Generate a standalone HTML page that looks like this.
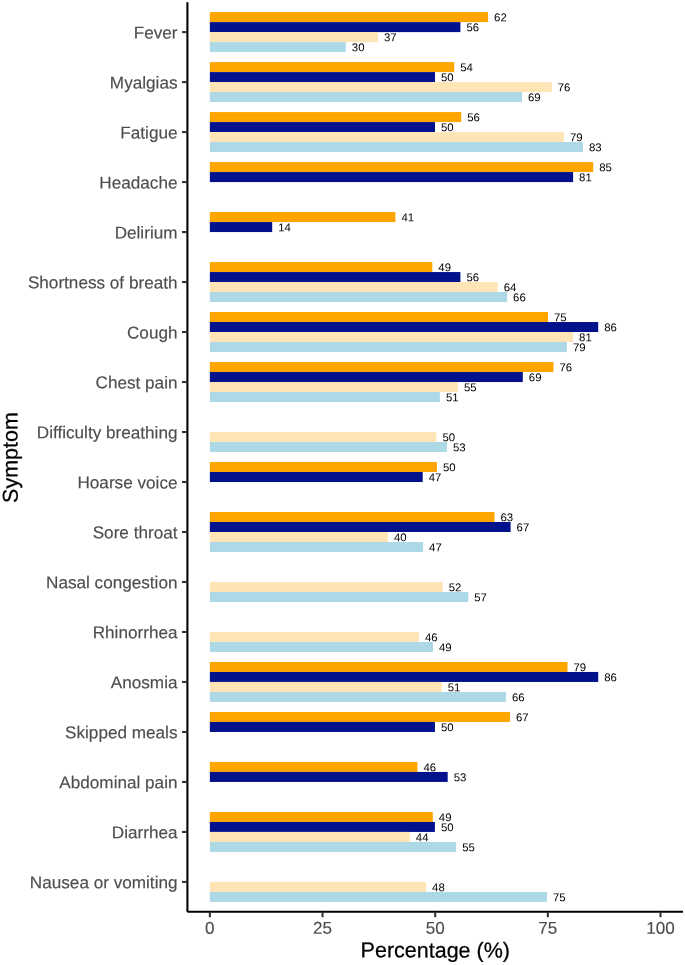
<!DOCTYPE html>
<html lang="en"><head><meta charset="utf-8"><title>Symptom percentages</title>
<style>
html,body{margin:0;padding:0;background:#fff;}
body{width:685px;height:965px;overflow:hidden;}
svg{display:block;font-family:"Liberation Sans",Arial,Helvetica,sans-serif;}
.yt{font-size:17.15px;fill:#4D4D4D;stroke:#4D4D4D;stroke-width:0.15px;text-anchor:end;}
.xt{font-size:17.07px;fill:#4D4D4D;stroke:#4D4D4D;stroke-width:0.15px;text-anchor:middle;}
.ttl{font-size:21.5px;fill:#000;stroke:#000;stroke-width:0.25px;text-anchor:middle;}
.v{font-size:11.38px;fill:#000;}
.tk{stroke:#333;stroke-width:2.07;fill:none;}
</style></head><body>
<svg width="685" height="965" viewBox="0 0 685 965">
<rect width="685" height="965" fill="#fff"/>
<g>
<rect x="209.85" y="12.10" width="278.25" height="10.00" fill="#FFA500"/>
<rect x="209.85" y="22.10" width="250.55" height="10.00" fill="#02128C"/>
<rect x="209.85" y="32.10" width="168.05" height="10.00" fill="#FFE4B5"/>
<rect x="209.85" y="42.10" width="135.95" height="10.00" fill="#ADD8E6"/>
<rect x="209.85" y="62.09" width="244.35" height="10.00" fill="#FFA500"/>
<rect x="209.85" y="72.09" width="225.15" height="10.00" fill="#02128C"/>
<rect x="209.85" y="82.09" width="341.90" height="10.00" fill="#FFE4B5"/>
<rect x="209.85" y="92.09" width="312.15" height="10.00" fill="#ADD8E6"/>
<rect x="209.85" y="112.08" width="251.35" height="10.00" fill="#FFA500"/>
<rect x="209.85" y="122.08" width="225.15" height="10.00" fill="#02128C"/>
<rect x="209.85" y="132.08" width="354.15" height="10.00" fill="#FFE4B5"/>
<rect x="209.85" y="142.08" width="373.15" height="10.00" fill="#ADD8E6"/>
<rect x="209.85" y="162.07" width="383.35" height="10.00" fill="#FFA500"/>
<rect x="209.85" y="172.07" width="363.25" height="10.00" fill="#02128C"/>
<rect x="209.85" y="212.06" width="185.55" height="10.00" fill="#FFA500"/>
<rect x="209.85" y="222.06" width="62.35" height="10.00" fill="#02128C"/>
<rect x="209.85" y="262.05" width="222.45" height="10.00" fill="#FFA500"/>
<rect x="209.85" y="272.05" width="250.55" height="10.00" fill="#02128C"/>
<rect x="209.85" y="282.05" width="287.85" height="10.00" fill="#FFE4B5"/>
<rect x="209.85" y="292.05" width="297.25" height="10.00" fill="#ADD8E6"/>
<rect x="209.85" y="312.04" width="338.15" height="10.00" fill="#FFA500"/>
<rect x="209.85" y="322.04" width="388.35" height="10.00" fill="#02128C"/>
<rect x="209.85" y="332.04" width="363.25" height="10.00" fill="#FFE4B5"/>
<rect x="209.85" y="342.04" width="357.05" height="10.00" fill="#ADD8E6"/>
<rect x="209.85" y="362.03" width="343.65" height="10.00" fill="#FFA500"/>
<rect x="209.85" y="372.03" width="312.95" height="10.00" fill="#02128C"/>
<rect x="209.85" y="382.03" width="248.15" height="10.00" fill="#FFE4B5"/>
<rect x="209.85" y="392.03" width="230.05" height="10.00" fill="#ADD8E6"/>
<rect x="209.85" y="432.02" width="226.55" height="10.00" fill="#FFE4B5"/>
<rect x="209.85" y="442.02" width="237.05" height="10.00" fill="#ADD8E6"/>
<rect x="209.85" y="462.01" width="227.05" height="10.00" fill="#FFA500"/>
<rect x="209.85" y="472.01" width="212.85" height="10.00" fill="#02128C"/>
<rect x="209.85" y="512.00" width="284.65" height="10.00" fill="#FFA500"/>
<rect x="209.85" y="522.00" width="300.75" height="10.00" fill="#02128C"/>
<rect x="209.85" y="532.00" width="178.05" height="10.00" fill="#FFE4B5"/>
<rect x="209.85" y="542.00" width="213.25" height="10.00" fill="#ADD8E6"/>
<rect x="209.85" y="581.99" width="232.85" height="10.00" fill="#FFE4B5"/>
<rect x="209.85" y="591.99" width="258.40" height="10.00" fill="#ADD8E6"/>
<rect x="209.85" y="631.98" width="209.15" height="10.00" fill="#FFE4B5"/>
<rect x="209.85" y="641.98" width="223.05" height="10.00" fill="#ADD8E6"/>
<rect x="209.85" y="661.97" width="357.65" height="10.00" fill="#FFA500"/>
<rect x="209.85" y="671.97" width="388.35" height="10.00" fill="#02128C"/>
<rect x="209.85" y="681.97" width="231.85" height="10.00" fill="#FFE4B5"/>
<rect x="209.85" y="691.97" width="296.05" height="10.00" fill="#ADD8E6"/>
<rect x="209.85" y="711.96" width="300.15" height="10.00" fill="#FFA500"/>
<rect x="209.85" y="721.96" width="225.10" height="10.00" fill="#02128C"/>
<rect x="209.85" y="761.95" width="207.55" height="10.00" fill="#FFA500"/>
<rect x="209.85" y="771.95" width="237.85" height="10.00" fill="#02128C"/>
<rect x="209.85" y="811.94" width="222.95" height="10.00" fill="#FFA500"/>
<rect x="209.85" y="821.94" width="225.05" height="10.00" fill="#02128C"/>
<rect x="209.85" y="831.94" width="199.95" height="10.00" fill="#FFE4B5"/>
<rect x="209.85" y="841.94" width="246.35" height="10.00" fill="#ADD8E6"/>
<rect x="209.85" y="881.93" width="216.25" height="10.00" fill="#FFE4B5"/>
<rect x="209.85" y="891.93" width="337.15" height="10.00" fill="#ADD8E6"/>
</g><g>
<text class="v" transform="translate(494.10 21.30) rotate(0.05)">62</text>
<text class="v" transform="translate(466.40 31.30) rotate(0.05)">56</text>
<text class="v" transform="translate(383.90 41.30) rotate(0.05)">37</text>
<text class="v" transform="translate(351.80 51.30) rotate(0.05)">30</text>
<text class="v" transform="translate(460.20 71.29) rotate(0.05)">54</text>
<text class="v" transform="translate(441.00 81.29) rotate(0.05)">50</text>
<text class="v" transform="translate(557.75 91.29) rotate(0.05)">76</text>
<text class="v" transform="translate(528.00 101.29) rotate(0.05)">69</text>
<text class="v" transform="translate(467.20 121.28) rotate(0.05)">56</text>
<text class="v" transform="translate(441.00 131.28) rotate(0.05)">50</text>
<text class="v" transform="translate(570.00 141.28) rotate(0.05)">79</text>
<text class="v" transform="translate(589.00 151.28) rotate(0.05)">83</text>
<text class="v" transform="translate(599.20 171.27) rotate(0.05)">85</text>
<text class="v" transform="translate(579.10 181.27) rotate(0.05)">81</text>
<text class="v" transform="translate(401.40 221.26) rotate(0.05)">41</text>
<text class="v" transform="translate(278.20 231.26) rotate(0.05)">14</text>
<text class="v" transform="translate(438.30 271.25) rotate(0.05)">49</text>
<text class="v" transform="translate(466.40 281.25) rotate(0.05)">56</text>
<text class="v" transform="translate(503.70 291.25) rotate(0.05)">64</text>
<text class="v" transform="translate(513.10 301.25) rotate(0.05)">66</text>
<text class="v" transform="translate(554.00 321.24) rotate(0.05)">75</text>
<text class="v" transform="translate(604.20 331.24) rotate(0.05)">86</text>
<text class="v" transform="translate(579.10 341.24) rotate(0.05)">81</text>
<text class="v" transform="translate(572.90 351.24) rotate(0.05)">79</text>
<text class="v" transform="translate(559.50 371.23) rotate(0.05)">76</text>
<text class="v" transform="translate(528.80 381.23) rotate(0.05)">69</text>
<text class="v" transform="translate(464.00 391.23) rotate(0.05)">55</text>
<text class="v" transform="translate(445.90 401.23) rotate(0.05)">51</text>
<text class="v" transform="translate(442.40 441.22) rotate(0.05)">50</text>
<text class="v" transform="translate(452.90 451.22) rotate(0.05)">53</text>
<text class="v" transform="translate(442.90 471.21) rotate(0.05)">50</text>
<text class="v" transform="translate(428.70 481.21) rotate(0.05)">47</text>
<text class="v" transform="translate(500.50 521.20) rotate(0.05)">63</text>
<text class="v" transform="translate(516.60 531.20) rotate(0.05)">67</text>
<text class="v" transform="translate(393.90 541.20) rotate(0.05)">40</text>
<text class="v" transform="translate(429.10 551.20) rotate(0.05)">47</text>
<text class="v" transform="translate(448.70 591.19) rotate(0.05)">52</text>
<text class="v" transform="translate(474.25 601.19) rotate(0.05)">57</text>
<text class="v" transform="translate(425.00 641.18) rotate(0.05)">46</text>
<text class="v" transform="translate(438.90 651.18) rotate(0.05)">49</text>
<text class="v" transform="translate(573.50 671.17) rotate(0.05)">79</text>
<text class="v" transform="translate(604.20 681.17) rotate(0.05)">86</text>
<text class="v" transform="translate(447.70 691.17) rotate(0.05)">51</text>
<text class="v" transform="translate(511.90 701.17) rotate(0.05)">66</text>
<text class="v" transform="translate(516.00 721.16) rotate(0.05)">67</text>
<text class="v" transform="translate(440.95 731.16) rotate(0.05)">50</text>
<text class="v" transform="translate(423.40 771.15) rotate(0.05)">46</text>
<text class="v" transform="translate(453.70 781.15) rotate(0.05)">53</text>
<text class="v" transform="translate(438.80 821.14) rotate(0.05)">49</text>
<text class="v" transform="translate(440.90 831.14) rotate(0.05)">50</text>
<text class="v" transform="translate(415.80 841.14) rotate(0.05)">44</text>
<text class="v" transform="translate(462.20 851.14) rotate(0.05)">55</text>
<text class="v" transform="translate(432.10 891.13) rotate(0.05)">48</text>
<text class="v" transform="translate(553.00 901.13) rotate(0.05)">75</text>
</g>
<line x1="187.4" y1="2.2" x2="187.4" y2="911.8" stroke="#000" stroke-width="2.07"/>
<line x1="187.4" y1="911.8" x2="683" y2="911.8" stroke="#000" stroke-width="2.07"/>
<g>
<line class="tk" x1="182" y1="32.10" x2="187.4" y2="32.10"/>
<text class="yt" transform="translate(177.5 38.50) rotate(0.05)">Fever</text>
<line class="tk" x1="182" y1="82.09" x2="187.4" y2="82.09"/>
<text class="yt" transform="translate(177.5 88.49) rotate(0.05)">Myalgias</text>
<line class="tk" x1="182" y1="132.08" x2="187.4" y2="132.08"/>
<text class="yt" transform="translate(177.5 138.48) rotate(0.05)">Fatigue</text>
<line class="tk" x1="182" y1="182.07" x2="187.4" y2="182.07"/>
<text class="yt" transform="translate(177.5 188.47) rotate(0.05)">Headache</text>
<line class="tk" x1="182" y1="232.06" x2="187.4" y2="232.06"/>
<text class="yt" transform="translate(177.5 238.46) rotate(0.05)">Delirium</text>
<line class="tk" x1="182" y1="282.05" x2="187.4" y2="282.05"/>
<text class="yt" transform="translate(177.5 288.45) rotate(0.05)">Shortness of breath</text>
<line class="tk" x1="182" y1="332.04" x2="187.4" y2="332.04"/>
<text class="yt" transform="translate(177.5 338.44) rotate(0.05)">Cough</text>
<line class="tk" x1="182" y1="382.03" x2="187.4" y2="382.03"/>
<text class="yt" transform="translate(177.5 388.43) rotate(0.05)">Chest pain</text>
<line class="tk" x1="182" y1="432.02" x2="187.4" y2="432.02"/>
<text class="yt" transform="translate(177.5 438.42) rotate(0.05)">Difficulty breathing</text>
<line class="tk" x1="182" y1="482.01" x2="187.4" y2="482.01"/>
<text class="yt" transform="translate(177.5 488.41) rotate(0.05)">Hoarse voice</text>
<line class="tk" x1="182" y1="532.00" x2="187.4" y2="532.00"/>
<text class="yt" transform="translate(177.5 538.40) rotate(0.05)">Sore throat</text>
<line class="tk" x1="182" y1="581.99" x2="187.4" y2="581.99"/>
<text class="yt" transform="translate(177.5 588.39) rotate(0.05)">Nasal congestion</text>
<line class="tk" x1="182" y1="631.98" x2="187.4" y2="631.98"/>
<text class="yt" transform="translate(177.5 638.38) rotate(0.05)">Rhinorrhea</text>
<line class="tk" x1="182" y1="681.97" x2="187.4" y2="681.97"/>
<text class="yt" transform="translate(177.5 688.37) rotate(0.05)">Anosmia</text>
<line class="tk" x1="182" y1="731.96" x2="187.4" y2="731.96"/>
<text class="yt" transform="translate(177.5 738.36) rotate(0.05)">Skipped meals</text>
<line class="tk" x1="182" y1="781.95" x2="187.4" y2="781.95"/>
<text class="yt" transform="translate(177.5 788.35) rotate(0.05)">Abdominal pain</text>
<line class="tk" x1="182" y1="831.94" x2="187.4" y2="831.94"/>
<text class="yt" transform="translate(177.5 838.34) rotate(0.05)">Diarrhea</text>
<line class="tk" x1="182" y1="881.93" x2="187.4" y2="881.93"/>
<text class="yt" transform="translate(177.5 888.33) rotate(0.05)">Nausea or vomiting</text>
</g><g>
<line class="tk" x1="209.85" y1="911.8" x2="209.85" y2="917.2"/>
<text class="xt" transform="translate(209.85 933.8) rotate(0.05)">0</text>
<line class="tk" x1="322.51" y1="911.8" x2="322.51" y2="917.2"/>
<text class="xt" transform="translate(322.51 933.8) rotate(0.05)">25</text>
<line class="tk" x1="435.17" y1="911.8" x2="435.17" y2="917.2"/>
<text class="xt" transform="translate(435.17 933.8) rotate(0.05)">50</text>
<line class="tk" x1="547.84" y1="911.8" x2="547.84" y2="917.2"/>
<text class="xt" transform="translate(547.84 933.8) rotate(0.05)">75</text>
<line class="tk" x1="660.50" y1="911.8" x2="660.50" y2="917.2"/>
<text class="xt" transform="translate(660.50 933.8) rotate(0.05)">100</text>
</g>
<text class="ttl" transform="translate(435.3 957.4) rotate(0.05)">Percentage (%)</text>
<text class="ttl" transform="translate(17.6 457.5) rotate(-90.05)">Symptom</text>
</svg></body></html>
